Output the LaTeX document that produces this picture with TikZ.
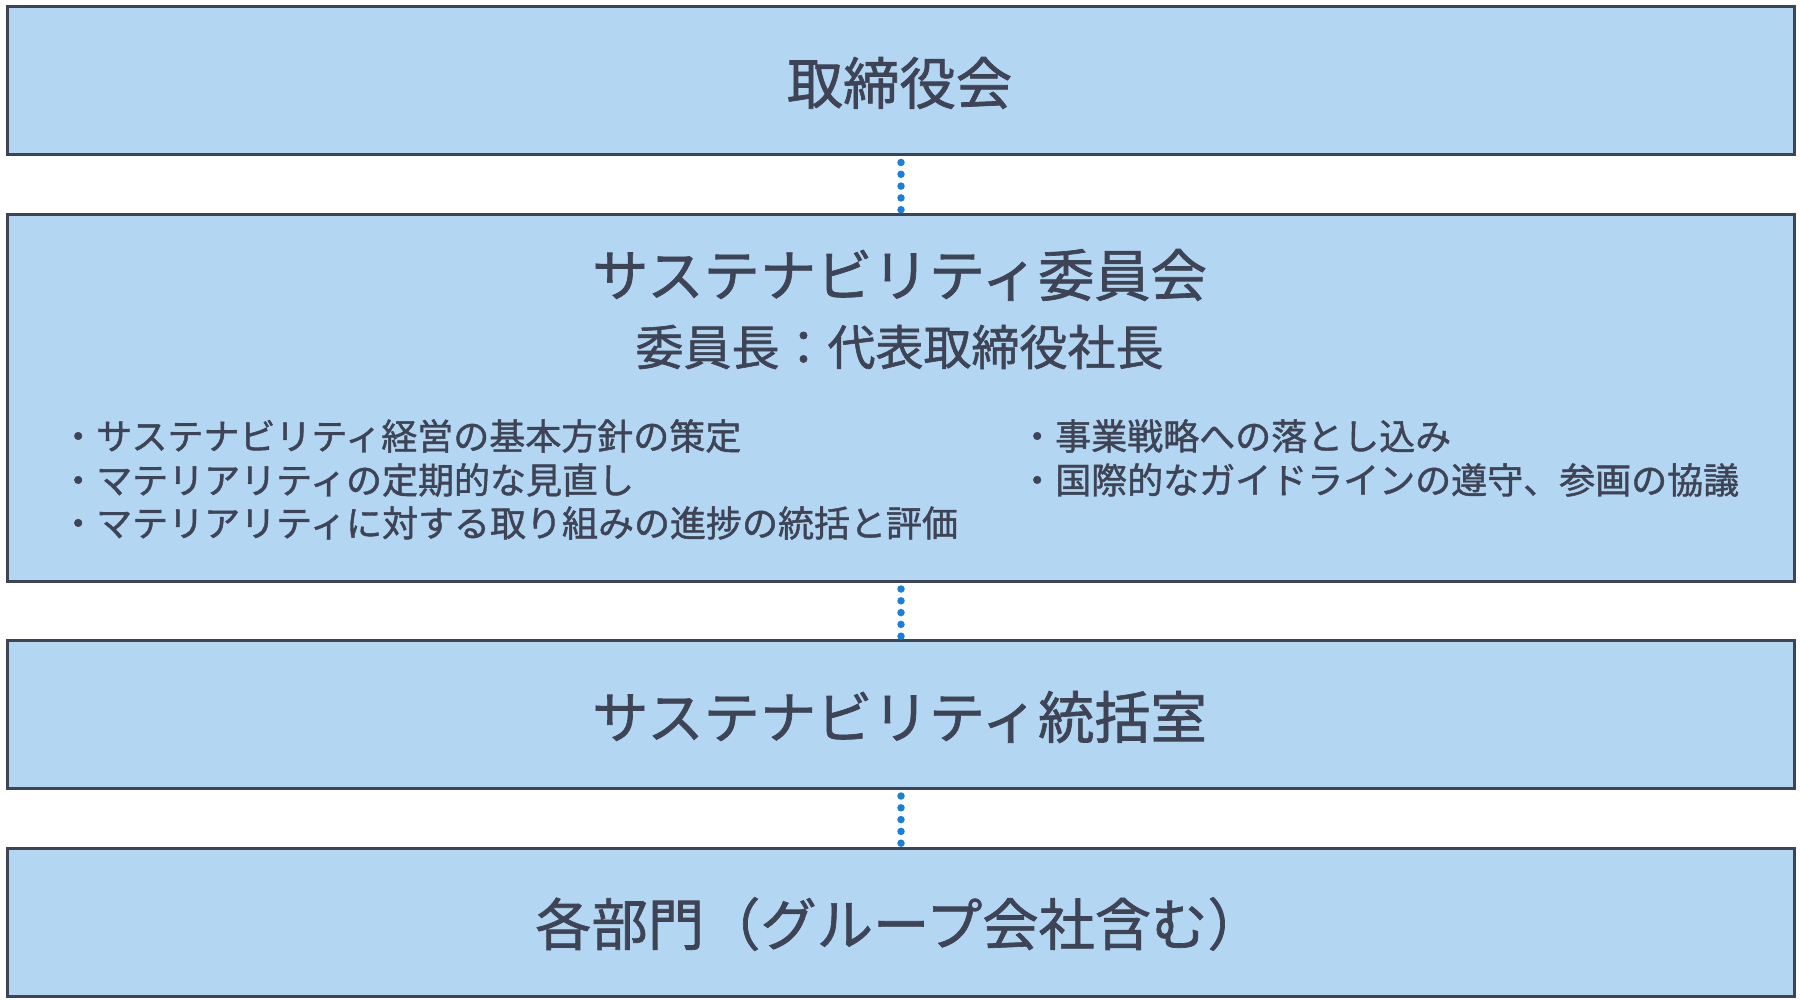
\documentclass[tikz,border=0pt]{standalone}
\usepackage{fontspec}
\setmainfont{Noto Sans CJK JP}[FakeBold=1.2]
\definecolor{boxfill}{HTML}{B3D7F2}
\definecolor{boxline}{HTML}{3E4456}
\definecolor{txt}{HTML}{3E4456}
\definecolor{dotblue}{HTML}{1A7FD9}
\begin{document}
\begin{tikzpicture}[x=1pt,y=-1pt,
  box/.style={draw=boxline,fill=boxfill,line width=3pt,minimum width=1787pt,inner sep=0pt,anchor=north west},
  title/.style={text=txt,font=\fontsize{56.3}{60}\selectfont,inner sep=0pt},
  sub/.style={text=txt,font=\fontsize{48}{52}\selectfont,inner sep=0pt},
  item/.style={text=txt,font=\fontsize{36}{40}\selectfont,inner sep=0pt,anchor=west},
  dotline/.style={draw=dotblue,line width=7.5pt,line cap=round,dash pattern=on 0pt off 11.8pt}]
\useasboundingbox (0,0) rectangle (1800,1000);
\node[box,minimum height=148pt] (b1) at (6,5.5) {};
\node[box,minimum height=367pt] (b2) at (6,213) {};
\node[box,minimum height=148pt] (b3) at (6,639) {};
\node[box,minimum height=148pt] (b4) at (6,847) {};
\draw[dotline] ([yshift=-6pt]b1.south) -- ([yshift=1pt]b2.north);
\draw[dotline] ([yshift=-6pt]b2.south) -- ([yshift=1pt]b3.north);
\draw[dotline] ([yshift=-6pt]b3.south) -- ([yshift=1pt]b4.north);
\node[title] (t1) at (899.5,83) {取締役会};
\node[title] (t2) at (899.5,275) {サステナビリティ委員会};
\node[sub] (t2s) at (899.5,347) {委員長：代表取締役社長};
\node[item] (i1) at (60,436) {・サステナビリティ経営の基本方針の策定};
\node[item] (i2) at (60,480) {・マテリアリティの定期的な見直し};
\node[item] (i3) at (60,523) {・マテリアリティに対する取り組みの進捗の統括と評価};
\node[item] (i4) at (1019,436) {・事業戦略への落とし込み};
\node[item] (i5) at (1019,480) {・国際的なガイドラインの遵守、参画の協議};
\node[title] (t3) at (899.5,717) {サステナビリティ統括室};
\node[title] (t4) at (899.5,924) {各部門（グループ会社含む）};
\end{tikzpicture}
\end{document}
